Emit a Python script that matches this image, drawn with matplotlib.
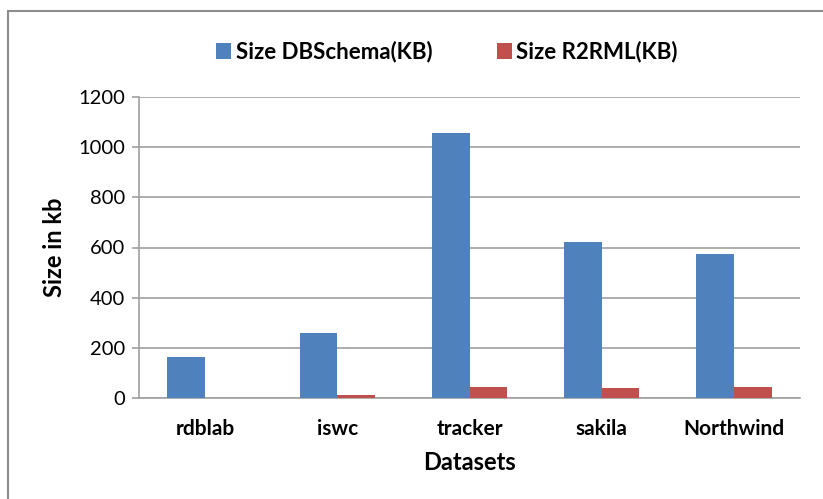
import matplotlib.pyplot as plt
import numpy as np

# ---------- DATA ----------
datasets = ["rdblab", "iswc", "tracker", "sakila", "Northwind"]
size_dbschema = [162, 258, 1055, 622, 575]
size_r2rml = [1, 11, 45, 38, 45]
yticks = [0, 200, 400, 600, 800, 1000, 1200]

blue = "#4F81BD"
red = "#C0504D"
grid_gray = "#A0A0A0"

plt.rcParams['font.family'] = ['Lato', 'DejaVu Sans']

fig = plt.figure(figsize=(8.23, 4.99), dpi=100)
ax = fig.add_axes([139 / 823, 1 - 398 / 499, 661 / 823, 301 / 499])

# outer chart frame
frame = plt.Rectangle((8 / 823, -0.1), 1.2, 1 - 11 / 499 + 0.1,
                      transform=fig.transFigure, fill=False,
                      edgecolor="#8C8C8C", linewidth=1.5)
fig.patches.append(frame)

x = np.arange(len(datasets))
w = 0.2857
ax.bar(x - w / 2, size_dbschema, w, color=blue, label="Size DBSchema(KB)", zorder=3)
ax.bar(x + w / 2, size_r2rml, w, color=red, label="Size R2RML(KB)", zorder=3)

ax.set_xlim(-0.5, len(datasets) - 0.5)
ax.set_ylim(0, 1200)
ax.set_yticks(yticks)
ax.set_xticks(x)
ax.set_xticklabels(datasets, fontsize=15, fontweight='bold')
ax.tick_params(axis='y', labelsize=14.5, length=5, color=grid_gray, width=1.2, pad=5)
ax.tick_params(axis='x', length=0, pad=15)

ax.grid(axis='y', color=grid_gray, linewidth=1.2, zorder=0)
for s in ["top", "right"]:
    ax.spines[s].set_visible(False)
for s in ["left", "bottom"]:
    ax.spines[s].set_color(grid_gray)
    ax.spines[s].set_linewidth(1.2)

ax.set_ylabel("Size in kb", fontsize=17, fontweight='bold', labelpad=9)
ax.set_xlabel("Datasets", fontsize=17, fontweight='bold', labelpad=9)

ax.legend(loc='center', bbox_to_anchor=(0.466, 1.15), ncol=2, frameon=False,
          prop={'size': 16, 'weight': 'bold'}, handlelength=0.68, handleheight=0.75,
          handletextpad=0.2, columnspacing=2.9)

fig.savefig("out.png", dpi=100)
